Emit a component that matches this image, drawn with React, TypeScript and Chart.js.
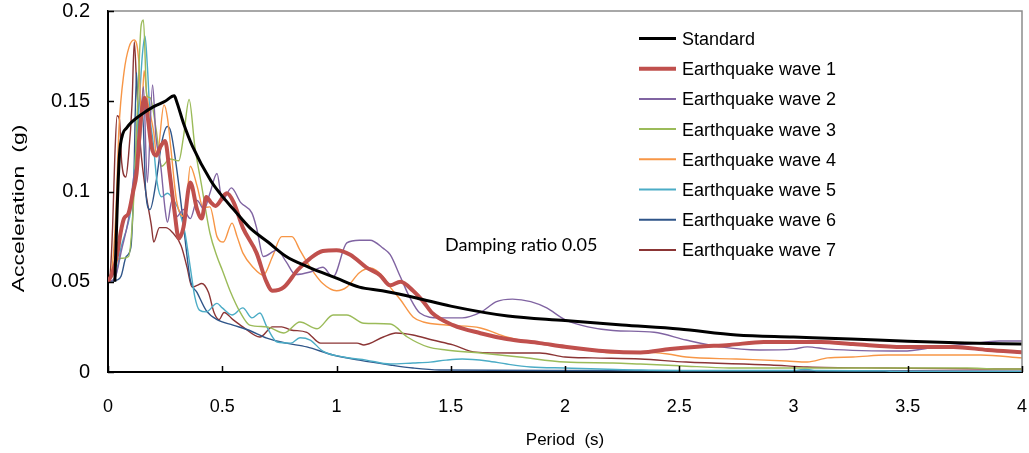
import React, { useEffect, useRef } from "react";
import { Chart, registerables } from "chart.js";

Chart.register(...registerables);

// ---------- data ----------
const xTickValues = [0, 0.5, 1, 1.5, 2, 2.5, 3, 3.5, 4];
const xTickLabels = ["0", "0.5", "1", "1.5", "2", "2.5", "3", "3.5", "4"];
const yTickValues = [0, 0.05, 0.1, 0.15, 0.2];
const yTickLabels = ["0", "0.05", "0.1", "0.15", "0.2"];

const seriesNames = [
  "Standard",
  "Earthquake wave 1",
  "Earthquake wave 2",
  "Earthquake wave 3",
  "Earthquake wave 4",
  "Earthquake wave 5",
  "Earthquake wave 6",
  "Earthquake wave 7",
];
const seriesColors = ["#000000", "#C0504D", "#8064A2", "#9BBB59", "#F79646", "#4BACC6", "#2F5589", "#8B3535"];
const seriesWidths = [3, 4, 1.4, 1.4, 1.4, 1.4, 1.4, 1.4];

const stdT = [0.03, 0.04, 0.05, 0.065, 0.08, 0.1, 0.15, 0.2, 0.25, 0.29, 0.3, 0.33, 0.37, 0.45, 0.49, 0.55, 0.62, 0.7, 0.78, 0.88, 1.0, 1.1, 1.2, 1.35, 1.5, 1.75, 2.0, 2.25, 2.5, 2.75, 3.0, 3.25, 3.5, 3.75, 4.0];
const stdA = [0.05, 0.09, 0.12, 0.132, 0.135, 0.138, 0.143, 0.147, 0.15, 0.153, 0.15, 0.138, 0.125, 0.106, 0.099, 0.09, 0.08, 0.072, 0.064, 0.058, 0.052, 0.047, 0.045, 0.041, 0.0365, 0.031, 0.0285, 0.026, 0.0238, 0.0205, 0.0194, 0.0183, 0.017, 0.016, 0.0155];

const w1T = [0, 0.02, 0.04, 0.055, 0.07, 0.09, 0.11, 0.125, 0.14, 0.16, 0.175, 0.19, 0.21, 0.23, 0.25, 0.27, 0.29, 0.31, 0.33, 0.36, 0.39, 0.41, 0.43, 0.45, 0.47, 0.52, 0.55, 0.59, 0.65, 0.69, 0.72, 0.77, 0.83, 0.885, 0.94, 1.0, 1.06, 1.13, 1.19, 1.235, 1.28, 1.335, 1.38, 1.42, 1.51, 1.63, 1.745, 1.89, 2.0, 2.18, 2.33, 2.46, 2.58, 2.72, 2.87, 3.12, 3.26, 3.48, 3.7, 3.85, 4.0];
const w1A = [0.05, 0.055, 0.065, 0.077, 0.085, 0.088, 0.1, 0.11, 0.135, 0.152, 0.14, 0.125, 0.12, 0.125, 0.128, 0.11, 0.09, 0.074, 0.08, 0.105, 0.09, 0.085, 0.097, 0.094, 0.092, 0.099, 0.094, 0.08, 0.066, 0.051, 0.045, 0.047, 0.0565, 0.063, 0.067, 0.0675, 0.065, 0.058, 0.0537, 0.048, 0.05, 0.045, 0.039, 0.0325, 0.026, 0.0215, 0.0183, 0.016, 0.014, 0.0115, 0.0108, 0.0127, 0.014, 0.015, 0.0166, 0.0166, 0.0155, 0.0139, 0.0139, 0.0122, 0.011];

const w2T = [0, 0.03, 0.06, 0.09, 0.115, 0.135, 0.155, 0.172, 0.195, 0.21, 0.23, 0.25, 0.26, 0.28, 0.3, 0.33, 0.36, 0.39, 0.42, 0.446, 0.477, 0.5, 0.54, 0.58, 0.63, 0.65, 0.68, 0.74, 0.78, 0.82, 0.885, 0.94, 0.985, 1.045, 1.1, 1.147, 1.205, 1.235, 1.28, 1.32, 1.365, 1.45, 1.55, 1.63, 1.7, 1.77, 1.85, 1.92, 2.0, 2.1, 2.21, 2.39, 2.53, 2.68, 2.85, 3.0, 3.06, 3.15, 3.48, 3.63, 3.77, 3.9, 4.0];
const w2A = [0.05, 0.052, 0.068, 0.085, 0.11, 0.12, 0.158, 0.105, 0.159, 0.13, 0.115, 0.09, 0.083, 0.095, 0.086, 0.09, 0.085, 0.095, 0.09, 0.099, 0.11, 0.095, 0.102, 0.094, 0.088, 0.08, 0.064, 0.0675, 0.061, 0.054, 0.0554, 0.058, 0.0527, 0.0715, 0.073, 0.073, 0.0685, 0.065, 0.0526, 0.0415, 0.0327, 0.03, 0.03, 0.033, 0.039, 0.0404, 0.039, 0.0355, 0.029, 0.025, 0.023, 0.022, 0.0177, 0.0139, 0.0122, 0.0127, 0.0139, 0.0127, 0.0116, 0.0139, 0.0155, 0.0172, 0.0172];

const w3T = [0, 0.02, 0.04, 0.06, 0.09, 0.11, 0.13, 0.145, 0.155, 0.17, 0.184, 0.21, 0.235, 0.27, 0.31, 0.33, 0.355, 0.38, 0.41, 0.446, 0.477, 0.5, 0.534, 0.58, 0.62, 0.695, 0.77, 0.84, 0.915, 0.985, 1.045, 1.12, 1.235, 1.31, 1.4, 1.48, 1.63, 1.8, 2.0, 2.21, 2.33, 2.5, 2.72, 3.76, 3.89, 4.0];
const w3A = [0.05, 0.055, 0.062, 0.063, 0.064, 0.09, 0.15, 0.192, 0.195, 0.153, 0.152, 0.135, 0.114, 0.118, 0.117, 0.13, 0.151, 0.125, 0.103, 0.077, 0.064, 0.0565, 0.045, 0.0327, 0.026, 0.025, 0.0216, 0.0277, 0.024, 0.0316, 0.0316, 0.027, 0.0266, 0.0194, 0.0139, 0.0122, 0.0105, 0.0083, 0.0055, 0.005, 0.0044, 0.0035, 0.0022, 0.0022, 0.0017, 0.0017];

const w4T = [0, 0.02, 0.035, 0.048, 0.07, 0.092, 0.114, 0.136, 0.146, 0.158, 0.17, 0.2, 0.214, 0.245, 0.26, 0.275, 0.3, 0.337, 0.36, 0.39, 0.416, 0.446, 0.477, 0.505, 0.543, 0.565, 0.59, 0.635, 0.68, 0.72, 0.76, 0.805, 0.84, 0.885, 0.94, 1.0, 1.045, 1.1, 1.147, 1.205, 1.235, 1.28, 1.335, 1.38, 1.48, 1.63, 1.745, 1.85, 2.0, 2.12, 2.2, 2.33, 2.45, 2.53, 2.75, 2.97, 3.06, 3.15, 3.26, 3.41, 3.82, 4.0];
const w4A = [0.05, 0.06, 0.09, 0.135, 0.166, 0.18, 0.184, 0.17, 0.14, 0.167, 0.153, 0.133, 0.119, 0.148, 0.141, 0.124, 0.095, 0.086, 0.114, 0.103, 0.091, 0.0915, 0.075, 0.072, 0.0825, 0.075, 0.066, 0.058, 0.0537, 0.064, 0.075, 0.075, 0.0675, 0.058, 0.049, 0.045, 0.047, 0.055, 0.0576, 0.0527, 0.047, 0.04, 0.0305, 0.0277, 0.026, 0.0244, 0.0194, 0.0166, 0.014, 0.0122, 0.0105, 0.011, 0.01, 0.0083, 0.0072, 0.0061, 0.0055, 0.0078, 0.0083, 0.0094, 0.0094, 0.0078];

const w5T = [0, 0.03, 0.057, 0.083, 0.1, 0.12, 0.135, 0.15, 0.162, 0.172, 0.185, 0.197, 0.215, 0.235, 0.26, 0.293, 0.315, 0.337, 0.36, 0.38, 0.4, 0.43, 0.477, 0.5, 0.543, 0.59, 0.63, 0.665, 0.695, 0.74, 0.8, 0.84, 0.885, 0.94, 1.03, 1.13, 1.235, 1.335, 1.41, 1.48, 1.55, 1.66, 1.745, 1.85, 2.0, 2.33, 2.7, 3.0, 3.05, 3.1, 3.4, 3.45, 4.0];
const w5A = [0.05, 0.052, 0.069, 0.08, 0.09, 0.12, 0.145, 0.175, 0.186, 0.17, 0.14, 0.128, 0.105, 0.097, 0.099, 0.094, 0.088, 0.077, 0.058, 0.0416, 0.0343, 0.0333, 0.038, 0.0355, 0.0316, 0.0355, 0.03, 0.0327, 0.025, 0.0166, 0.016, 0.019, 0.0177, 0.0116, 0.0083, 0.0066, 0.0044, 0.005, 0.0055, 0.0066, 0.0072, 0.0061, 0.0044, 0.0028, 0.0022, 0.0011, 0.0008, 0.0008, 0.0015, 0.0008, 0.0006, 0.0001, 0.0001];

const w6T = [0, 0.04, 0.057, 0.08, 0.1, 0.112, 0.125, 0.137, 0.15, 0.165, 0.184, 0.21, 0.235, 0.26, 0.275, 0.298, 0.32, 0.345, 0.36, 0.39, 0.43, 0.477, 0.547, 0.62, 0.695, 0.78, 0.87, 0.985, 1.1, 1.235, 1.335, 1.45, 2.0, 3.0, 4.0];
const w6A = [0.05, 0.051, 0.053, 0.064, 0.069, 0.1, 0.166, 0.12, 0.146, 0.1, 0.09, 0.105, 0.127, 0.136, 0.133, 0.115, 0.093, 0.065, 0.051, 0.044, 0.034, 0.029, 0.026, 0.023, 0.0188, 0.016, 0.0139, 0.0094, 0.0066, 0.0039, 0.0022, 0.0011, 0.0008, 0.0006, 0.0005];

const w7T = [0, 0.01, 0.02, 0.03, 0.04, 0.05, 0.06, 0.078, 0.09, 0.105, 0.115, 0.125, 0.143, 0.165, 0.19, 0.2, 0.225, 0.253, 0.28, 0.32, 0.346, 0.368, 0.39, 0.41, 0.44, 0.464, 0.486, 0.508, 0.547, 0.59, 0.665, 0.72, 0.76, 0.8, 0.87, 0.93, 1.09, 1.12, 1.205, 1.26, 1.335, 1.42, 1.51, 1.61, 1.77, 1.89, 2.0, 2.12, 2.33, 2.53, 2.9, 3.06, 3.41, 3.85, 4.0];
const w7A = [0.05, 0.055, 0.08, 0.12, 0.142, 0.14, 0.116, 0.108, 0.12, 0.148, 0.183, 0.16, 0.124, 0.1, 0.081, 0.072, 0.08, 0.08, 0.0776, 0.07, 0.058, 0.047, 0.048, 0.049, 0.044, 0.033, 0.029, 0.033, 0.029, 0.025, 0.0194, 0.025, 0.025, 0.0233, 0.022, 0.016, 0.016, 0.015, 0.0194, 0.0216, 0.0205, 0.0177, 0.015, 0.011, 0.0105, 0.0105, 0.0083, 0.0078, 0.0072, 0.0055, 0.0039, 0.0028, 0.0022, 0.0017, 0.0017];

const seriesT = [stdT, w1T, w2T, w3T, w4T, w5T, w6T, w7T];
const seriesA = [stdA, w1A, w2A, w3A, w4A, w5A, w6A, w7A];

const annotationText = "Damping ratio 0.05";
const xTitle = "Period  (s)";
const yTitle = "Acceleration  (g)";

const W = 1029;
const H = 453;
const sansFont = "'Liberation Sans', Arial, sans-serif";

const decorPlugin = {
  id: "decor",
  afterDatasetsDraw(chart: any) {
    const { ctx, chartArea: a, scales } = chart;
    ctx.save();
    // top & right frame
    ctx.strokeStyle = "#8c8c8c";
    ctx.lineWidth = 1.5;
    ctx.beginPath();
    ctx.moveTo(a.left, a.top);
    ctx.lineTo(a.right, a.top);
    ctx.lineTo(a.right, a.bottom);
    ctx.stroke();
    // inward ticks
    ctx.strokeStyle = "#000";
    ctx.lineWidth = 1.5;
    ctx.beginPath();
    yTickValues.forEach((v) => {
      const y = Math.round(scales.y.getPixelForValue(v)) + 0.5;
      ctx.moveTo(a.left, y);
      ctx.lineTo(a.left + 6, y);
    });
    xTickValues.forEach((v) => {
      const x = Math.round(scales.x.getPixelForValue(v)) + 0.5;
      ctx.moveTo(x, a.bottom);
      ctx.lineTo(x, a.bottom - 6);
    });
    ctx.stroke();

    // annotation
    ctx.fillStyle = "#000";
    ctx.font = "18px Lato, 'Open Sans', sans-serif";
    ctx.textAlign = "left";
    ctx.textBaseline = "middle";
    ctx.fillText(annotationText, a.left + 337, a.top + 234);

    // legend
    const lx0 = a.right - 383;
    const lx1 = a.right - 346;
    const tx = a.right - 340;
    ctx.font = "18px " + sansFont;
    chart.data.datasets.forEach((ds: any, i: number) => {
      const y = a.top + 27.5 + i * 30.2;
      ctx.strokeStyle = ds.borderColor;
      ctx.lineWidth = i < 2 ? ds.borderWidth : 2;
      ctx.beginPath();
      ctx.moveTo(lx0, y);
      ctx.lineTo(lx1, y);
      ctx.stroke();
      ctx.fillStyle = "#000";
      ctx.fillText(ds.label, tx, y + 1.5);
    });

    // y-axis title (stretched along its length like the original)
    ctx.save();
    ctx.translate(20, (a.top + a.bottom) / 2 + 17);
    ctx.rotate(-Math.PI / 2);
    ctx.scale(1.44, 1);
    ctx.font = "16px " + sansFont;
    ctx.textAlign = "center";
    ctx.textBaseline = "middle";
    ctx.fillStyle = "#000";
    ctx.fillText(yTitle, 0, 0);
    ctx.restore();

    ctx.restore();
  },
};

const zeroPad = (s: any) => {
  s.paddingTop = 0;
  s.paddingBottom = 0;
  s.paddingLeft = 0;
  s.paddingRight = 0;
};

export default function App() {
  const ref = useRef<HTMLCanvasElement | null>(null);

  useEffect(() => {
    if (!ref.current) return;
    const datasets = seriesNames.map((name, i) => ({
      label: name,
      data: seriesT[i].map((t, k) => ({ x: t, y: seriesA[i][k] })),
      borderColor: seriesColors[i],
      backgroundColor: seriesColors[i],
      borderWidth: seriesWidths[i],
      pointRadius: 0,
      fill: false,
      cubicInterpolationMode: "monotone" as const,
      borderJoinStyle: "round" as const,
    }));

    const chart = new Chart(ref.current, {
      type: "line",
      data: { datasets },
      plugins: [decorPlugin],
      options: {
        animation: false,
        responsive: false,
        devicePixelRatio: 1,
        layout: { padding: { left: 0, right: 7, top: 11, bottom: 0 } },
        plugins: { legend: { display: false }, tooltip: { enabled: false } },
        scales: {
          x: {
            type: "linear",
            min: 0,
            max: 4,
            grid: { display: false, drawTicks: false },
            border: { display: true, color: "#000", width: 2 },
            afterBuildTicks: (s: any) => {
              s.ticks = xTickValues.map((v) => ({ value: v }));
            },
            afterFit: (s: any) => {
              s.height = 81;
              zeroPad(s);
            },
            ticks: {
              autoSkip: false,
              maxRotation: 0,
              padding: 26,
              color: "#000",
              font: { family: sansFont, size: 18, lineHeight: 1 },
              callback: (v: any) => {
                const idx = xTickValues.findIndex((t) => Math.abs(t - Number(v)) < 1e-9);
                return idx >= 0 ? xTickLabels[idx] : "";
              },
            },
            title: {
              display: true,
              text: xTitle,
              color: "#000",
              font: { family: sansFont, size: 17, lineHeight: 1.2 },
              padding: { top: 0, bottom: 2 },
            },
          },
          y: {
            type: "linear",
            min: 0,
            max: 0.2,
            grid: { display: false, drawTicks: false },
            border: { display: true, color: "#000", width: 2 },
            afterBuildTicks: (s: any) => {
              s.ticks = yTickValues.map((v) => ({ value: v }));
            },
            afterFit: (s: any) => {
              s.width = 108;
              zeroPad(s);
            },
            ticks: {
              autoSkip: false,
              padding: 18,
              color: "#000",
              font: { family: sansFont, size: 20, lineHeight: 1 },
              callback: (v: any) => {
                const idx = yTickValues.findIndex((t) => Math.abs(t - Number(v)) < 1e-9);
                return idx >= 0 ? yTickLabels[idx] : "";
              },
            },
            title: { display: false },
          },
        },
      },
    });
    return () => chart.destroy();
  }, []);

  return (
    <div style={{ position: "fixed", left: 0, top: 0, width: W, height: H, background: "#fff" }}>
      <canvas ref={ref} width={W} height={H} style={{ display: "block", width: W, height: H }} />
    </div>
  );
}
